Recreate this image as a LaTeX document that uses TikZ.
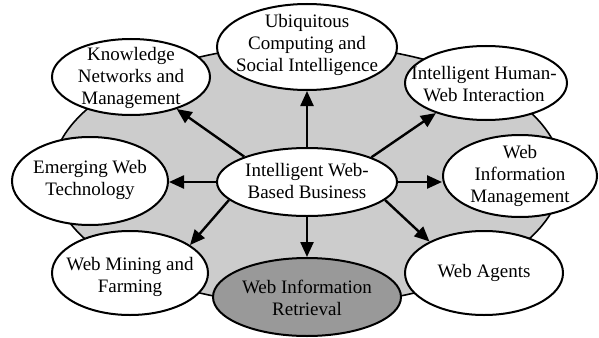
\documentclass[tikz,border=0pt]{standalone}
\usepackage{fontspec}
\setmainfont{Liberation Serif}
\usetikzlibrary{shapes.geometric,arrows.meta}
\definecolor{bggray}{RGB}{204,204,204}
\definecolor{dkgray}{RGB}{153,153,153}
\begin{document}
\begin{tikzpicture}[x=1pt,y=-1pt,
  bub/.style={ellipse, draw=black, line width=2pt, fill=white, inner sep=0pt},
  txt/.style={align=center, inner sep=0pt, font=\fontsize{19}{22}\selectfont},
  arr/.style={line width=2.4pt, -{Triangle[length=15pt,width=13pt]}}]
\useasboundingbox (0,0) rectangle (599,337);
\draw[fill=bggray, line width=1.6pt] (307,175) ellipse (255 and 130);
% bubbles
\node[bub, minimum width=180pt, minimum height=86pt] (U) at (307,47) {};
\node[bub, minimum width=158pt, minimum height=76pt] (K) at (131,77) {};
\node[bub, minimum width=162pt, minimum height=74pt] (H) at (486,83) {};
\node[bub, minimum width=156pt, minimum height=88pt] (E) at (90,181) {};
\node[bub, minimum width=180pt, minimum height=68pt] (C) at (307,182) {};
\node[bub, minimum width=154pt, minimum height=82pt] (M) at (520,176) {};
\node[bub, minimum width=156pt, minimum height=84pt] (F) at (130,273) {};
\node[bub, fill=dkgray, minimum width=188pt, minimum height=78pt] (R) at (307,297) {};
\node[bub, minimum width=158pt, minimum height=84pt] (A) at (484,273) {};
% texts
\node[txt] (Ut) at (307,45) {Ubiquitous\\Computing and\\Social Intelligence};
\node[txt] (Kt) at (131,78) {Knowledge\\Networks and\\Management};
\node[txt] (Ht) at (484,84) {Intelligent Human-\\Web Interaction};
\node[txt] (Et) at (90,180) {Emerging Web\\Technology};
\node[txt] (Ct) at (307,181) {Intelligent Web-\\Based Business};
\node[txt] (Mt) at (520,176) {Web\\Information\\Management};
\node[txt] (Ft) at (130,277) {Web Mining and\\Farming};
\node[txt] (Rt) at (307,298) {Web Information\\Retrieval};
\node[txt] (At) at (484,273) {Web Agents};
% arrows
\draw[arr] (C.158) -- (K.325);
\draw[arr] (C.90) -- (U.270);
\draw[arr] (C.21) -- (H.211);
\draw[arr] (C.180) -- (E.east |- C.180);
\draw[arr] (C.0) -- (M.west |- C.0);
\draw[arr] (C.193) -- (F.25);
\draw[arr] (C.270) -- (R.90);
\draw[arr] (C.347) -- (A.150);
\end{tikzpicture}
\end{document}
